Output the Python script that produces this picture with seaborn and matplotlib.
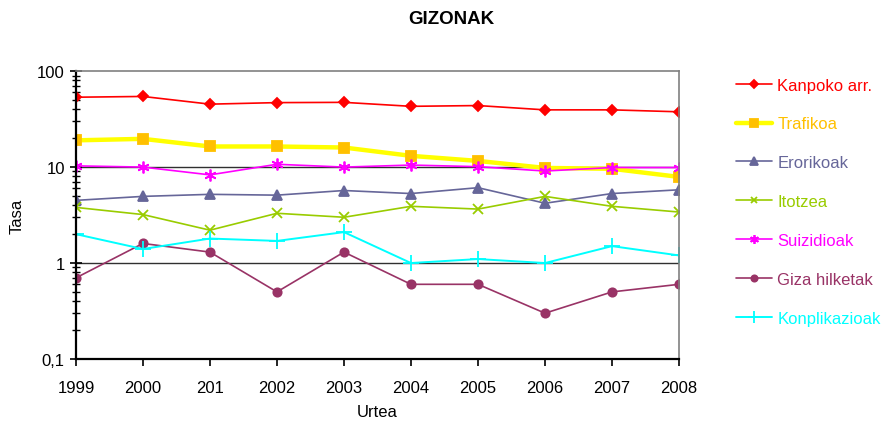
import pandas as pd
import matplotlib
matplotlib.use("Agg")
import matplotlib.pyplot as plt
import seaborn as sns
from matplotlib.ticker import FixedLocator, FixedFormatter, LogLocator, NullFormatter

# data (log scale)
years = ["1999", "2000", "201", "2002", "2003", "2004", "2005", "2006", "2007", "2008"]
kanpoko = [53.5, 54.5, 45.3, 47.0, 47.3, 43.0, 43.8, 39.5, 39.5, 37.7]
trafikoa = [19.0, 19.7, 16.4, 16.4, 16.0, 13.1, 11.6, 9.8, 9.6, 7.9]
erorikoak = [4.5, 4.95, 5.2, 5.1, 5.7, 5.3, 6.1, 4.2, 5.3, 5.8]
itotzea = [3.8, 3.2, 2.2, 3.3, 3.0, 3.9, 3.65, 4.95, 3.9, 3.4]
suizidioak = [10.3, 10.0, 8.3, 10.7, 10.0, 10.5, 10.1, 9.1, 9.9, 9.9]
giza = [0.7, 1.6, 1.3, 0.5, 1.3, 0.6, 0.6, 0.3, 0.5, 0.6]
konplikazioak = [2.0, 1.4, 1.8, 1.7, 2.1, 1.0, 1.1, 1.0, 1.5, 1.2]

series = ["Kanpoko arr.", "Trafikoa", "Erorikoak", "Itotzea", "Suizidioak",
          "Giza hilketak", "Konplikazioak"]
values = [kanpoko, trafikoa, erorikoak, itotzea, suizidioak, giza, konplikazioak]

ytick_vals = [0.1, 1, 10, 100]
ytick_labels = ["0,1", "1", "10", "100"]

rows = []
for name, vals in zip(series, values):
    for y, v in zip(years, vals):
        rows.append({"Urtea": y, "Tasa": v, "serie": name})
df = pd.DataFrame(rows)

# line colour, marker, marker colour, marker size, line width
styles = {
    "Kanpoko arr.": ("#FF0000", "D", "#FF0000", 5.5, 1.2),
    "Trafikoa": ("#FFFF00", "s", "#FFC000", 7, 3.2),
    "Erorikoak": ("#666699", "^", "#666699", 7, 1.2),
    "Itotzea": ("#99CC00", "x", "#99CC00", 6.5, 1.2),
    "Suizidioak": ("#FF00FF", (6, 2, 0), "#FF00FF", 8.5, 1.2),
    "Giza hilketak": ("#993366", "o", "#993366", 6, 1.2),
    "Konplikazioak": ("#00FFFF", "+", "#00FFFF", 12, 1.4),
}
text_colors = {"Trafikoa": "#FFC000"}

sns.set_style("white", {"text.color": "black", "axes.labelcolor": "black",
                        "xtick.color": "black", "ytick.color": "black"})
plt.rcParams["font.family"] = ["Liberation Sans", "DejaVu Sans"]

fig = plt.figure(figsize=(8.83, 4.27), dpi=100)
ax = fig.add_axes([0.086, 0.157, 0.683, 0.674])

for name in series:
    col, mk, mcol, ms, lw = styles[name]
    sub = df[df["serie"] == name]
    sns.lineplot(data=sub, x="Urtea", y="Tasa", ax=ax, color=col, marker=mk,
                 markersize=ms, markerfacecolor=mcol, markeredgecolor=mcol,
                 markeredgewidth=1.3, linewidth=lw, label=name, sort=False)

ax.set_yscale("log")
ax.set_ylim(0.1, 100)
ax.set_xlim(0, len(years) - 1)
ax.yaxis.set_major_locator(FixedLocator(ytick_vals))
ax.yaxis.set_major_formatter(FixedFormatter(ytick_labels))
ax.yaxis.set_minor_locator(LogLocator(base=10, subs=range(2, 10)))
ax.yaxis.set_minor_formatter(NullFormatter())
ax.set_xticks(range(len(years)))
ax.set_xticklabels(years)

for v in [1, 10]:
    ax.axhline(v, color="#303030", linewidth=1.0, zorder=0)

ax.tick_params(axis="y", which="major", direction="inout", length=8, width=1.2,
               labelsize=12, color="black", labelcolor="black", left=True, pad=4)
ax.tick_params(axis="y", which="minor", direction="inout", length=6, width=1.0,
               color="black", left=True)
ax.tick_params(axis="x", direction="out", length=5, width=1.2, labelsize=12,
               color="black", labelcolor="black", bottom=True, pad=10)

for s in ["left", "bottom"]:
    ax.spines[s].set_color("black")
    ax.spines[s].set_linewidth(1.6)
for s in ["top", "right"]:
    ax.spines[s].set_color("#808080")
    ax.spines[s].set_linewidth(1.2)

ax.set_xlabel("Urtea", fontsize=12, color="black")
ax.set_ylabel("Tasa", fontsize=12, color="black")
ax.xaxis.set_label_coords(0.5, -0.155)
ax.yaxis.set_label_coords(-0.085, 0.5)

ax.get_legend().remove()
handles, labels = ax.get_legend_handles_labels()
leg = fig.legend(handles, labels, loc="upper left", bbox_to_anchor=(0.833, 0.816),
                 frameon=False, fontsize=12, handlelength=2.2, handletextpad=0.3,
                 labelspacing=1.43, borderpad=0, borderaxespad=0, markerscale=0.75)
for t in leg.get_texts():
    t.set_color(text_colors.get(t.get_text(), styles[t.get_text()][0]))

fig.suptitle("GIZONAK", x=0.511, y=0.975, fontsize=13.5, fontweight="bold",
             color="black")

fig.savefig("out.png", dpi=100)
